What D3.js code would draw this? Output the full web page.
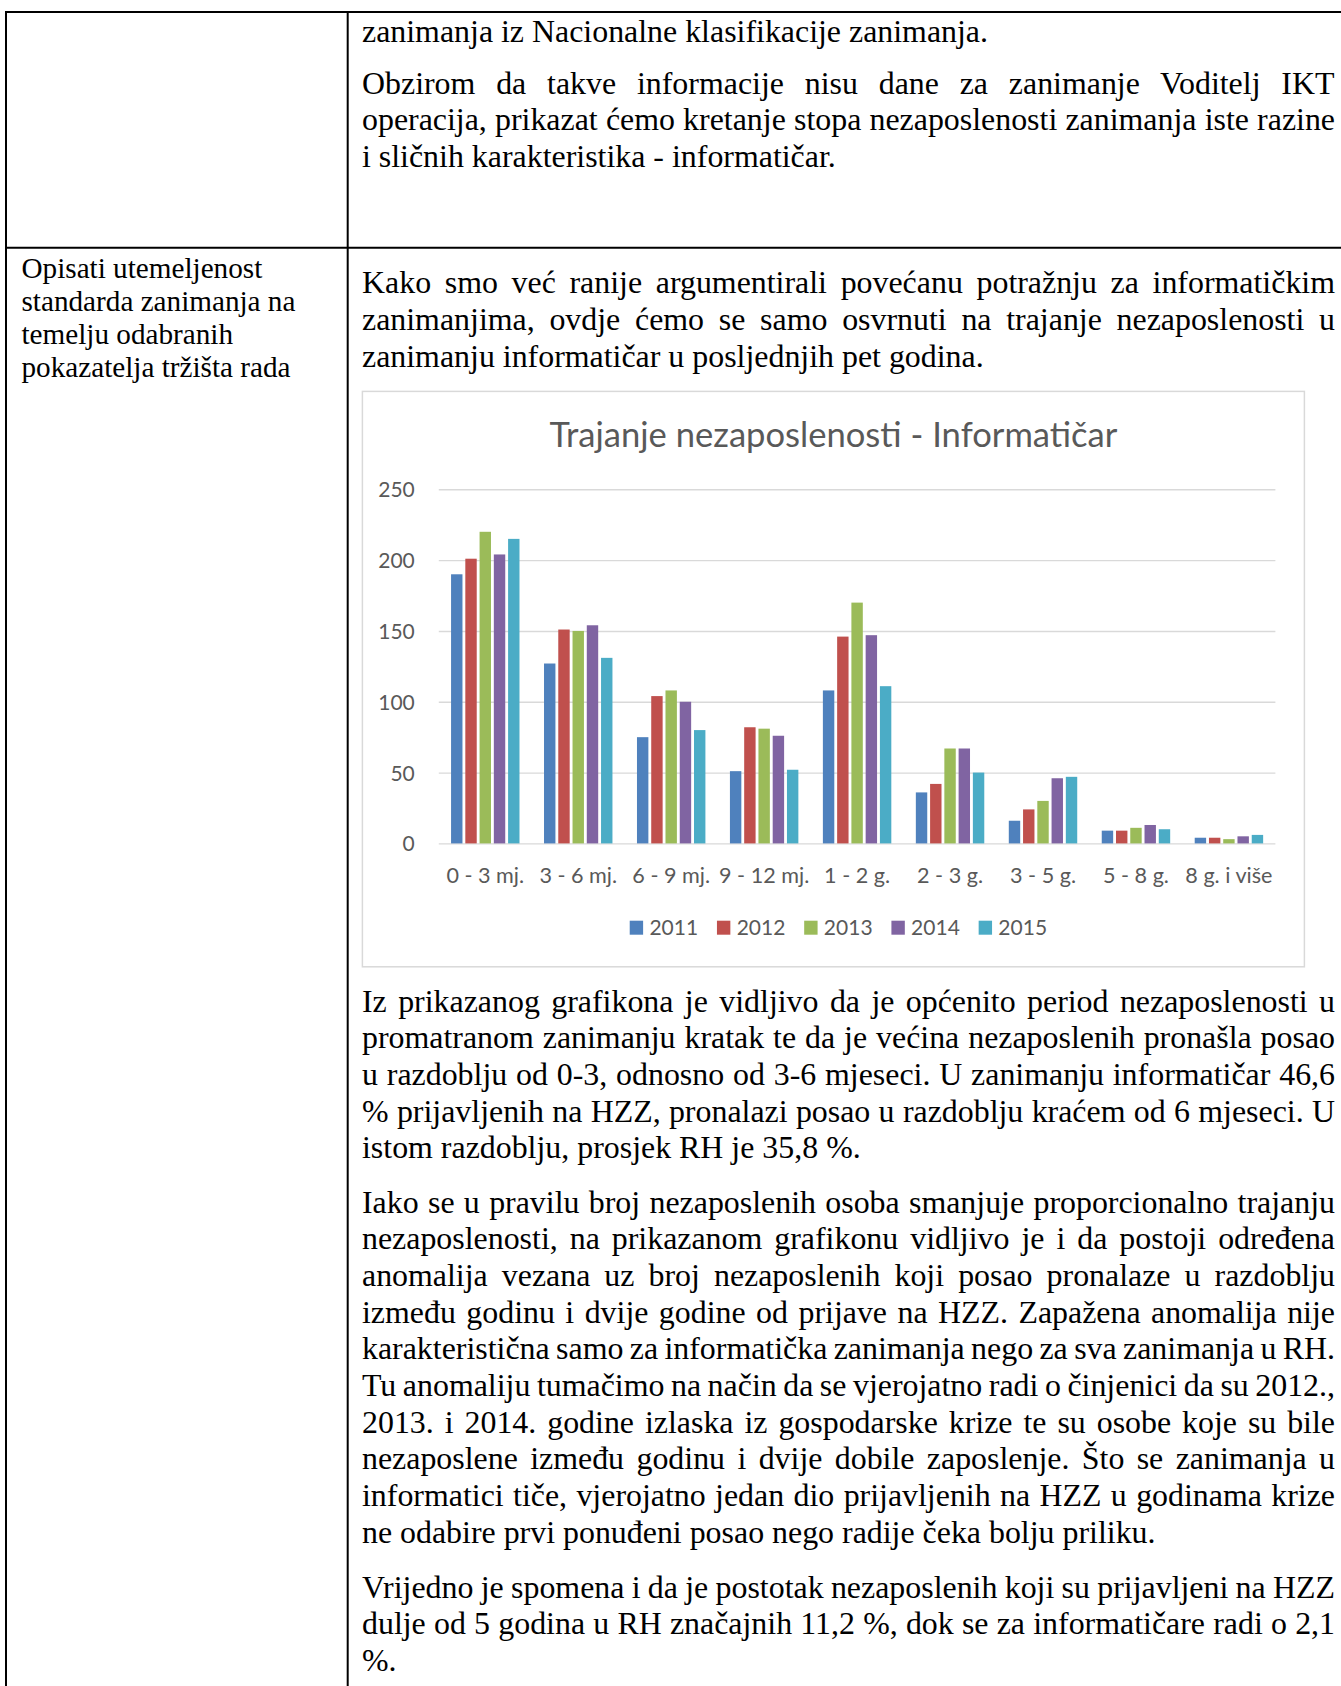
<!DOCTYPE html>
<html>
<head>
<meta charset="utf-8">
<script src="https://cdn.jsdelivr.net/npm/d3@7"></script>
<style>
  body { margin: 0; background: #fff; }
  svg { display: block; }
  .doc text { font-family: "Liberation Serif", "Times New Roman", serif; fill: #000; }
  .chart text { font-family: Lato, "Open Sans", sans-serif; fill: #595959; }
</style>
</head>
<body>
<svg id="page" width="1341" height="1686"></svg>
<script>
// Chart data
const categories = ["0 - 3 mj.", "3 - 6 mj.", "6 - 9 mj.", "9 - 12 mj.", "1 - 2 g.", "2 - 3 g.", "3 - 5 g.", "5 - 8 g.", "8 g. i više"];
const years = ["2011", "2012", "2013", "2014", "2015"];
const v2011 = [190, 127, 75, 51, 108, 36, 16, 9, 4];
const v2012 = [201, 151, 104, 82, 146, 42, 24, 9, 4];
const v2013 = [220, 150, 108, 81, 170, 67, 30, 11, 3];
const v2014 = [204, 154, 100, 76, 147, 67, 46, 13, 5];
const v2015 = [215, 131, 80, 52, 111, 50, 47, 10, 6];
const yTicks = [0, 50, 100, 150, 200, 250];
const chartTitle = "Trajanje nezaposlenosti - Informatičar";

// Document text (one entry per printed line)
const leftCell = ["Opisati utemeljenost", "standarda zanimanja na", "temelju odabranih", "pokazatelja tržišta rada"];
const par1 = ["zanimanja iz Nacionalne klasifikacije zanimanja."];
const par2 = [
  "Obzirom da takve informacije nisu dane za zanimanje Voditelj IKT",
  "operacija, prikazat ćemo kretanje stopa nezaposlenosti zanimanja iste razine",
  "i sličnih karakteristika - informatičar."
];
const par3 = [
  "Kako smo već ranije argumentirali povećanu potražnju za informatičkim",
  "zanimanjima, ovdje ćemo se samo osvrnuti na trajanje nezaposlenosti u",
  "zanimanju informatičar u posljednjih pet godina."
];
const par4 = [
  "Iz prikazanog grafikona je vidljivo da je općenito period nezaposlenosti u",
  "promatranom zanimanju kratak te da je većina nezaposlenih pronašla posao",
  "u razdoblju od 0-3, odnosno od 3-6 mjeseci. U zanimanju informatičar 46,6",
  "% prijavljenih na HZZ, pronalazi posao u razdoblju kraćem od 6 mjeseci. U",
  "istom razdoblju, prosjek RH je 35,8 %."
];
const par5 = [
  "Iako se u pravilu broj nezaposlenih osoba smanjuje proporcionalno trajanju",
  "nezaposlenosti, na prikazanom grafikonu vidljivo je i da postoji određena",
  "anomalija vezana uz broj nezaposlenih koji posao pronalaze u razdoblju",
  "između godinu i dvije godine od prijave na HZZ. Zapažena anomalija nije",
  "karakteristična samo za informatička zanimanja nego za sva zanimanja u RH.",
  "Tu anomaliju tumačimo na način da se vjerojatno radi o činjenici da su 2012.,",
  "2013. i 2014. godine izlaska iz gospodarske krize te su osobe koje su bile",
  "nezaposlene između godinu i dvije dobile zaposlenje. Što se zanimanja u",
  "informatici tiče, vjerojatno jedan dio prijavljenih na HZZ u godinama krize",
  "ne odabire prvi ponuđeni posao nego radije čeka bolju priliku."
];
const par6 = [
  "Vrijedno je spomena i da je postotak nezaposlenih koji su prijavljeni na HZZ",
  "dulje od 5 godina u RH značajnih 11,2 %, dok se za informatičare radi o 2,1",
  "%."
];

const series = [v2011, v2012, v2013, v2014, v2015];
const colors = ["#4F81BD", "#C0504D", "#9BBB59", "#8064A2", "#4BACC6"];

const svg = d3.select("#page");
const doc = svg.append("g").attr("class", "doc");

// Table borders
const borders = [
  [5, 12, 1341, 12],
  [6, 11, 6, 1686],
  [347.7, 11, 347.7, 1686],
  [5, 247.7, 1341, 247.7]
];
doc.selectAll("line.border")
  .data(borders)
  .join("line")
  .attr("class", "border")
  .attr("x1", d => d[0]).attr("y1", d => d[1])
  .attr("x2", d => d[2]).attr("y2", d => d[3])
  .style("stroke", "#000")
  .style("stroke-width", 2);

// Justified text lines
const ctx = document.createElement("canvas").getContext("2d");
function textBlock(lines, x, width, baseline, step, size) {
  ctx.font = size + 'px "Liberation Serif"';
  lines.forEach((line, i) => {
    const t = doc.append("text")
      .attr("x", x)
      .attr("y", baseline + i * step)
      .style("font-size", size + "px")
      .text(line);
    if (width && i < lines.length - 1) {
      const spaces = (line.match(/ /g) || []).length;
      const w = ctx.measureText(line).width;
      if (spaces) t.style("word-spacing", ((width - w) / spaces) + "px");
    }
  });
}

const colX = 362;
const colW = 973;
const fs = 31.9;
const lh = 36.6;
textBlock(leftCell, 21.5, 0, 278.3, 32.8, 29.2);
textBlock(par1, colX, colW, 41.7, lh, fs);
textBlock(par2, colX, colW, 93.8, lh, fs);
textBlock(par3, colX, colW, 293.4, lh, fs);
textBlock(par4, colX, colW, 1011.7, lh, fs);
textBlock(par5, colX, colW, 1212.5, 36.7, fs);
textBlock(par6, colX, colW, 1597.5, 36.9, fs);

// Chart
const boxW = 942, boxH = 575.4;
const chart = svg.append("g")
  .attr("class", "chart")
  .attr("transform", "translate(362.4,391.4)");

chart.append("rect")
  .attr("x", 0).attr("y", 0)
  .attr("width", boxW).attr("height", boxH)
  .style("fill", "#fff")
  .style("stroke", "#d9d9d9")
  .style("stroke-width", 1.5);

const plotL = 76.4, plotR = 913, plotT = 97.9, plotB = 452;

const x0 = d3.scaleBand().domain(categories).range([plotL, plotR]);
const x1 = d3.scaleBand().domain(years).range([0, x0.bandwidth()])
  .paddingInner(0.2).paddingOuter(0.86);
const y = d3.scaleLinear().domain([0, 250]).range([plotB, plotT]);

// y axis + gridlines
const yAxis = chart.append("g")
  .attr("transform", `translate(${plotL},0)`)
  .call(d3.axisLeft(y).tickValues(yTicks).tickSize(-(plotR - plotL)).tickPadding(24));
yAxis.select(".domain").remove();
yAxis.selectAll("line").style("stroke", "#d9d9d9").style("stroke-width", 1.4);
yAxis.selectAll("text")
  .attr("dy", "0.36em")
  .style("font-size", "21px")
  .style("font-family", "Lato, sans-serif")
  .style("fill", "#595959");

// x axis labels
const xAxis = chart.append("g")
  .attr("transform", `translate(0,${plotB})`)
  .call(d3.axisBottom(x0).tickSize(0).tickPadding(24.2));
xAxis.select(".domain").remove();
xAxis.selectAll("text")
  .style("font-size", "21.6px")
  .style("font-family", "Lato, sans-serif")
  .style("fill", "#595959");

// bars
const groups = chart.selectAll("g.year")
  .data(series)
  .join("g")
  .attr("class", "year")
  .style("fill", (d, i) => colors[i]);

groups.each(function (vals, si) {
  d3.select(this).selectAll("rect")
    .data(vals)
    .join("rect")
    .attr("x", (d, ci) => x0(categories[ci]) + x1(years[si]))
    .attr("width", x1.bandwidth())
    .attr("y", d => y(d))
    .attr("height", d => y(0) - y(d));
});

// title
chart.append("text")
  .attr("x", boxW / 2)
  .attr("y", 55.9)
  .attr("text-anchor", "middle")
  .style("font-size", "34.6px")
  .text(chartTitle);

// legend
const legend = chart.append("g");
const legItems = legend.selectAll("g")
  .data(years)
  .join("g");
legItems.append("rect")
  .attr("y", 529.3)
  .attr("width", 13.4)
  .attr("height", 14)
  .style("fill", (d, i) => colors[i]);
legItems.append("text")
  .attr("x", 19.7)
  .attr("y", 543.9)
  .style("font-size", "21px")
  .text(d => d);
const legGap = 18.8;
let lx = 0;
legItems.each(function () {
  const w = this.getBBox().width;
  d3.select(this).attr("transform", `translate(${lx},0)`);
  lx += w + legGap;
});
const legW = lx - legGap;
legend.attr("transform", `translate(${boxW / 2 + 5 - legW / 2},0)`);
</script>
</body>
</html>
